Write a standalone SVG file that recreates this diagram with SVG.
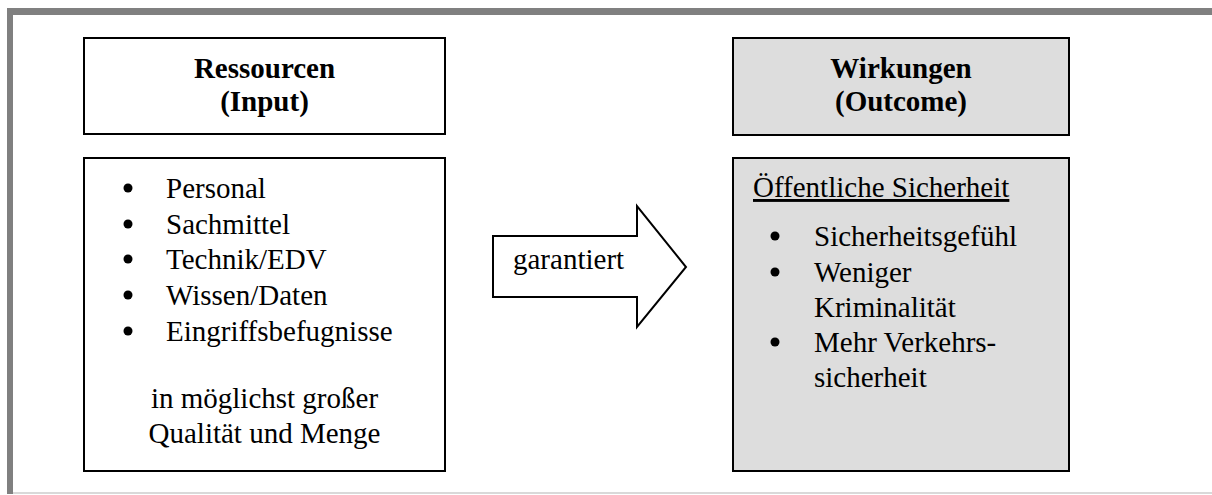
<svg xmlns="http://www.w3.org/2000/svg" width="1212" height="495" viewBox="0 0 1212 495">
<style>
.box{fill:#ffffff;stroke:#000000;stroke-width:2}
.grey{fill:#dddddd;stroke:#000000;stroke-width:2}
.t{font-family:"Liberation Serif","Times New Roman",serif;font-size:29px;fill:#000000}
.b{font-weight:bold;text-anchor:middle}
.c{text-anchor:middle}
.dot{fill:#000000}
</style>
<rect x="0" y="0" width="1212" height="495" fill="#ffffff"/>
<g id="frame">
<rect x="7" y="8" width="1205" height="7" fill="#808080"/>
<rect x="7" y="8" width="6" height="486" fill="#808080"/>
<rect x="13" y="492" width="1199" height="2" fill="#d9d9d9"/>
</g>
<g id="input-header">
<rect class="box" x="84" y="38" width="361" height="96"/>
<text class="t b" x="264.5" y="78">Ressourcen</text>
<text class="t b" x="264.5" y="111">(Input)</text>
</g>
<g id="input-body">
<rect class="box" x="84" y="158" width="361" height="313"/>
<circle class="dot" cx="128" cy="188" r="4.5"/>
<circle class="dot" cx="128" cy="224" r="4.5"/>
<circle class="dot" cx="128" cy="259" r="4.5"/>
<circle class="dot" cx="128" cy="295" r="4.5"/>
<circle class="dot" cx="128" cy="331" r="4.5"/>
<text class="t" x="166" y="198">Personal</text>
<text class="t" x="166" y="234">Sachmittel</text>
<text class="t" x="166" y="269">Technik/EDV</text>
<text class="t" x="166" y="305">Wissen/Daten</text>
<text class="t" x="166" y="341">Eingriffsbefugnisse</text>
<text class="t c" x="264.5" y="408">in möglichst großer</text>
<text class="t c" x="264.5" y="443">Qualität und Menge</text>
</g>
<g id="outcome-header">
<rect class="grey" x="733" y="38" width="336" height="97"/>
<text class="t b" x="901" y="78">Wirkungen</text>
<text class="t b" x="901" y="111">(Outcome)</text>
</g>
<g id="outcome-body">
<rect class="grey" x="733" y="158" width="336" height="313"/>
<text class="t" x="753" y="197" text-decoration="underline">Öffentliche Sicherheit</text>
<circle class="dot" cx="775" cy="236" r="4.5"/>
<circle class="dot" cx="775" cy="272" r="4.5"/>
<circle class="dot" cx="775" cy="342" r="4.5"/>
<text class="t" x="814" y="246">Sicherheitsgefühl</text>
<text class="t" x="814" y="282">Weniger</text>
<text class="t" x="814" y="317">Kriminalität</text>
<text class="t" x="814" y="352">Mehr Verkehrs-</text>
<text class="t" x="814" y="387">sicherheit</text>
</g>
<g id="connectors">
<g id="arrow-garantiert">
<polygon points="493,236 637,236 637,206 686,267 637,327 637,297 493,297" fill="#ffffff" stroke="#000000" stroke-width="2" stroke-linejoin="miter"/>
<text class="t" x="513" y="269">garantiert</text>
</g>
</g>
</svg>
